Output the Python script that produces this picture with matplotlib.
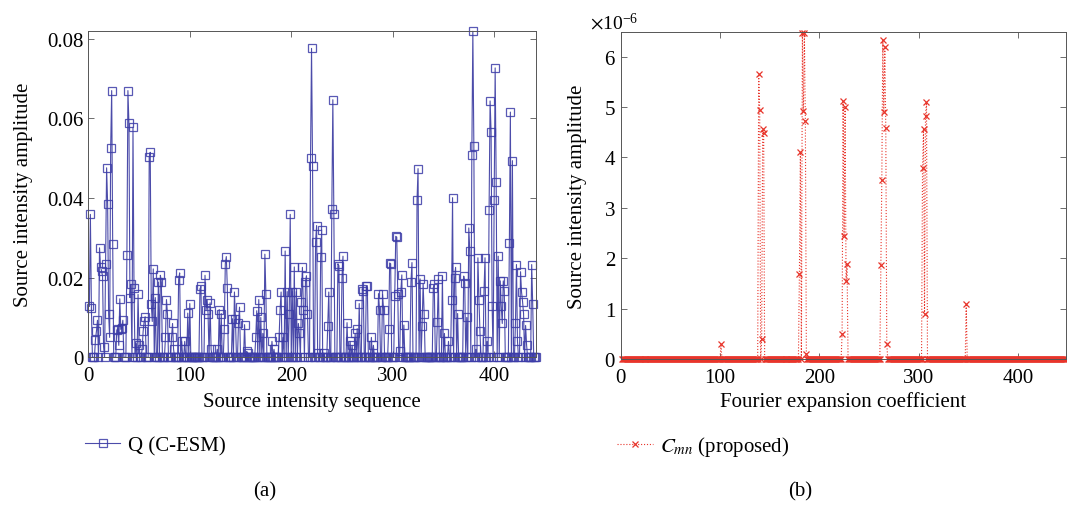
import numpy as np
import matplotlib
matplotlib.use("Agg")
import matplotlib.pyplot as plt
from matplotlib.ticker import ScalarFormatter

plt.rcParams['font.family'] = ['Liberation Serif', 'DejaVu Serif']
plt.rcParams['mathtext.fontset'] = 'stix'
plt.rcParams['font.size'] = 15

n_q = 441
n_c = 448

# (a) Q (C-ESM): non-zero entries, everything else is zero
q_idx = [1, 2, 3, 7, 8, 9, 11, 12, 13, 14, 15, 17, 18, 19, 20, 21, 22, 23, 24,
         28, 29, 30, 31, 32, 33, 34, 38, 39, 40, 41, 42, 44, 45, 47, 49, 50,
         53, 54, 55, 56, 60, 61, 62, 63, 64, 66, 69, 71, 72, 76, 77, 78, 82,
         83, 84, 89, 90, 92, 95, 98, 100, 110, 111, 115, 116, 117, 118, 120,
         121, 127, 129, 131, 134, 135, 136, 137, 142, 144, 145, 148, 149, 154,
         156, 157, 165, 166, 168, 170, 172, 174, 175, 181, 183, 188, 189, 190,
         192, 194, 196, 198, 199, 201, 203, 205, 207, 208, 210, 211, 212, 214,
         215, 216, 219, 220, 221, 224, 225, 226, 229, 230, 232, 236, 237, 240,
         241, 242, 246, 247, 250, 251, 255, 258, 260, 263, 265, 267, 270, 271,
         274, 275, 279, 281, 286, 287, 290, 291, 296, 297, 298, 302, 303, 304,
         305, 307, 308, 309, 311, 318, 319, 324, 325, 327, 329, 330, 331, 340,
         341, 344, 345, 349, 351, 355, 358, 359, 361, 362, 364, 370, 371, 373,
         375, 376, 378, 379, 380, 382, 384, 385, 386, 390, 391, 393, 395, 396,
         397, 398, 400, 401, 402, 404, 406, 407, 408, 409, 410, 415, 416, 418,
         421, 422, 423, 426, 427, 428, 429, 431, 432, 437, 438]
q_val = [0.0128, 0.0359, 0.0125, 0.0044, 0.0066, 0.0093, 0.0275, 0.0228, 0.0217,
         0.0204, 0.0027, 0.0235, 0.0476, 0.0386, 0.0108, 0.005, 0.0526, 0.0670,
         0.0285, 0.0068, 0.0072, 0.003, 0.0147, 0.0070, 0.0073, 0.0093, 0.0256,
         0.0670, 0.0588, 0.015, 0.0183, 0.0578, 0.0174, 0.0035, 0.0158, 0.003,
         0.002, 0.0065, 0.009, 0.0102, 0.0503, 0.0515, 0.0135, 0.009, 0.0222,
         0.015, 0.0189, 0.0206, 0.0188, 0.005, 0.0145, 0.0108, 0.005, 0.0085,
         0.002, 0.0195, 0.0212, 0.004, 0.004, 0.0111, 0.0135, 0.0172, 0.0178,
         0.0206, 0.0118, 0.0145, 0.011, 0.0137, 0.002, 0.002, 0.012, 0.011,
         0.0072, 0.0235, 0.0253, 0.0174, 0.0097, 0.0164, 0.0097, 0.0085, 0.0126,
         0.0082, 0.0015, 0.0012, 0.005, 0.0117, 0.0145, 0.01, 0.006, 0.0259,
         0.0158, 0.004, 0.002, 0.005, 0.012, 0.0164, 0.005, 0.0267, 0.0165,
         0.011, 0.0359, 0.0165, 0.0227, 0.0165, 0.0085, 0.006, 0.014, 0.0226,
         0.012, 0.019, 0.0205, 0.011, 0.05, 0.0776, 0.0481, 0.029, 0.0331,
         0.0012, 0.0251, 0.032, 0.001, 0.0079, 0.0164, 0.0373, 0.0647, 0.036,
         0.0235, 0.023, 0.02, 0.0254, 0.0087, 0.004, 0.003, 0.006, 0.0072,
         0.0135, 0.0172, 0.0166, 0.0178, 0.018, 0.005, 0.003, 0.016, 0.012,
         0.0158, 0.012, 0.0072, 0.0237, 0.0235, 0.0153, 0.0304, 0.0302, 0.016,
         0.0015, 0.0165, 0.0207, 0.0081, 0.019, 0.0238, 0.0396, 0.0474, 0.0197,
         0.0079, 0.0185, 0.011, 0.0175, 0.0183, 0.0088, 0.0197, 0.0203, 0.006,
         0.004, 0.0145, 0.0401, 0.02, 0.0226, 0.011, 0.0204, 0.0187, 0.01,
         0.0325, 0.0267, 0.0507, 0.0819, 0.0532, 0.002, 0.025, 0.0145, 0.0065,
         0.0167, 0.025, 0.004, 0.037, 0.0644, 0.0565, 0.013, 0.0394, 0.0727,
         0.044, 0.0254, 0.0192, 0.0128, 0.0085, 0.0192, 0.0167, 0.0287, 0.0616,
         0.0494, 0.0085, 0.0233, 0.004, 0.0215, 0.0164, 0.014, 0.011, 0.008,
         0.003, 0.0233, 0.0133]

# (b) C_mn (proposed), values in units of 1e-6
c_idx = [101, 139, 140, 142, 143, 144, 180, 181, 183, 184, 185, 186, 187,
         223, 224, 225, 226, 227, 228, 262, 263, 264, 265, 266, 267, 268,
         304, 305, 306, 307, 308, 348]
c_val = [0.30, 5.65, 4.95, 0.40, 4.56, 4.48, 1.70, 4.10, 6.46, 4.92, 6.46, 4.72,
         0.10, 0.50, 5.11, 2.44, 5.00, 1.55, 1.88, 1.86, 3.55, 6.33, 4.90, 6.19,
         4.58, 0.31, 3.79, 4.56, 0.90, 4.83, 5.09, 1.10]

xq = np.arange(1, n_q + 1)
q = np.zeros(n_q)
q[np.array(q_idx) - 1] = q_val
xc = np.arange(1, n_c + 1)
c = np.zeros(n_c)
c[np.array(c_idx) - 1] = np.array(c_val) * 1e-6

fig = plt.figure(figsize=(10.67, 5.06), dpi=100)
ax1 = fig.add_axes([0.0828, 0.2919, 0.4193, 0.6443])
ax2 = fig.add_axes([0.5817, 0.2879, 0.4169, 0.6462])

ax1.plot(xq, q, color='#2d2d9b', lw=0.8, marker='s', ms=5.8, mfc='none',
         mec='#3c3ca8', mew=0.9, alpha=0.85, label='Q (C-ESM)', clip_on=False)
ax1.set_xlim(0, 441)
ax1.set_ylim(0, 0.0819)
ax1.set_xticks([0, 100, 200, 300, 400])
ax1.set_yticks([0, 0.02, 0.04, 0.06, 0.08])
ax1.set_yticklabels(['0', '0.02', '0.04', '0.06', '0.08'])
ax1.set_xlabel('Source intensity sequence', labelpad=5)
ax1.set_ylabel('Source intensity amplitude', labelpad=10)

ax2.plot(xc, c, color='#e8352b', lw=0.8, ls=':', marker='x', ms=5, mew=0.9,
         label='$C_{mn}$ (proposed)', clip_on=False)
ax2.set_xlim(0, 448)
ax2.set_ylim(0, 6.48e-6)
ax2.set_xticks([0, 100, 200, 300, 400])
ax2.set_yticks(np.arange(0, 7) * 1e-6)
fmt = ScalarFormatter(useMathText=True)
fmt.set_powerlimits((-3, 3))
ax2.yaxis.set_major_formatter(fmt)
ax2.yaxis.get_offset_text().set_fontsize(14)
ax2.yaxis.get_offset_text().set_x(-0.07)
ax2.set_xlabel('Fourier expansion coefficient', labelpad=3)
ax2.set_ylabel('Source intensity amplitude', labelpad=12)

for ax in (ax1, ax2):
    ax.tick_params(direction='in', top=True, right=True, length=4,
                   width=0.6, labelsize=15, color='#555555')
    ax.tick_params(axis='x', pad=6)
    for s in ax.spines.values():
        s.set_linewidth(0.7)
        s.set_color('#555555')

fig.legend(handles=ax1.get_lines(), loc='center left',
           bbox_to_anchor=(0.062, 0.117), frameon=False, fontsize=15,
           handlelength=1.7, handletextpad=0.35)
fig.legend(handles=ax2.get_lines(), loc='center left',
           bbox_to_anchor=(0.561, 0.117), frameon=False, fontsize=15,
           handlelength=1.7, handletextpad=0.35)

fig.text(0.248, 0.028, '(a)', ha='center', va='center', fontsize=15)
fig.text(0.75, 0.028, '(b)', ha='center', va='center', fontsize=15)

fig.savefig('out.png', dpi=100)
